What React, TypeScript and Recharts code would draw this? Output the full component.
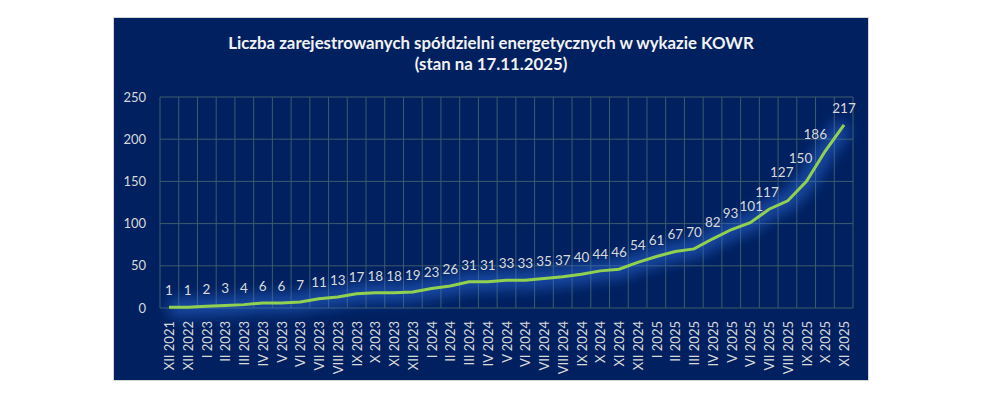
import React from "react";
import { LineChart, Line, XAxis, YAxis, CartesianGrid, LabelList } from "recharts";

const months = [
  "XII 2021", "XII 2022", "I 2023", "II 2023", "III 2023", "IV 2023", "V 2023", "VI 2023",
  "VII 2023", "VIII 2023", "IX 2023", "X 2023", "XI 2023", "XII 2023", "I 2024", "II 2024",
  "III 2024", "IV 2024", "V 2024", "VI 2024", "VII 2024", "VIII 2024", "IX 2024", "X 2024",
  "XI 2024", "XII 2024", "I 2025", "II 2025", "III 2025", "IV 2025", "V 2025", "VI 2025",
  "VII 2025", "VIII 2025", "IX 2025", "X 2025", "XI 2025",
];

const counts = [
  1, 1, 2, 3, 4, 6, 6, 7, 11, 13, 17, 18, 18, 19, 23, 26, 31, 31, 33, 33, 35, 37, 40, 44,
  46, 54, 61, 67, 70, 82, 93, 101, 117, 127, 150, 186, 217,
];

const yTicks = [0, 50, 100, 150, 200, 250];

const data = months.map((m, i) => ({ month: m, count: counts[i] }));

const FONT = "Lato, 'Open Sans', sans-serif";
const TEXT = "#d9d9d9";

// small manual nudges for labels on the steep end (like the hand-placed ones in the original)
const labelNudge: Record<number, [number, number]> = {
  30: [-1, 0],
  31: [1, 0],
  32: [-2, 0],
  33: [-6, -12],
  34: [-6, -6],
  35: [-10, 0],
};

function MonthTick(props: any) {
  const { x, y, payload } = props;
  const ty = y + 5;
  return (
    <text
      x={x}
      y={ty}
      transform={`rotate(-90 ${x} ${ty})`}
      textAnchor="end"
      dominantBaseline="central"
      fill={TEXT}
      fontSize={13}
      fontFamily={FONT}
    >
      {payload.value}
    </text>
  );
}

function PointLabel(props: any) {
  const { x, y, value, index } = props;
  const [dx, dy] = labelNudge[index] || [0, 0];
  return (
    <text
      x={x + dx}
      y={y - 12 + dy}
      textAnchor="middle"
      fill={TEXT}
      fontSize={13.5}
      fontFamily={FONT}
    >
      {value}
    </text>
  );
}

export default function App() {
  const n = months.length;
  return (
    <div style={{ position: "absolute", left: 0, top: 0, width: 981, height: 396, background: "#fff" }}>
      <div
        style={{
          position: "absolute",
          left: 113,
          top: 17,
          width: 754,
          height: 362,
          background: "#002060",
          border: "1px solid #d6d6d6",
          fontFamily: FONT,
        }}
      >
        <div
          style={{
            position: "absolute",
            left: 0,
            width: 754,
            top: 14,
            textAlign: "center",
            color: "#f2f2f2",
            fontWeight: 700,
            fontSize: 16.8,
            lineHeight: "21px",
          }}
        >
          Liczba zarejestrowanych spółdzielni energetycznych w wykazie KOWR
          <br />
          (stan na 17.11.2025)
        </div>
        <div style={{ position: "absolute", left: 0, top: 0 }}>
          <LineChart width={754} height={362} data={data} margin={{ top: 79, right: 15, left: 0, bottom: 0 }}>
            <defs>
              <filter id="glow" x="-20%" y="-50%" width="140%" height="200%">
                <feGaussianBlur stdDeviation="7" />
              </filter>
            </defs>
            <CartesianGrid
              stroke="#3d5c6c"
              strokeWidth={1}
              verticalCoordinatesGenerator={(p: any) => {
                const off = p.offset;
                return Array.from({ length: n + 1 }, (_, i) => off.left + (i * off.width) / n);
              }}
            />
            <XAxis
              dataKey="month"
              interval={0}
              padding={{ left: 9, right: 9 }}
              axisLine={false}
              tickLine={false}
              height={72}
              tick={<MonthTick />}
            />
            <YAxis
              domain={[0, 250]}
              ticks={yTicks}
              width={46}
              axisLine={false}
              tickLine={false}
              tickMargin={8}
              tick={{ fill: TEXT, fontSize: 13, fontFamily: FONT }}
            />
            <Line
              dataKey="count"
              type="linear"
              stroke="#2f6fe0"
              strokeOpacity={0.55}
              strokeWidth={18}
              dot={false}
              filter="url(#glow)"
              isAnimationActive={false}
            />
            <Line
              dataKey="count"
              type="linear"
              stroke="#92d050"
              strokeWidth={3}
              dot={false}
              isAnimationActive={false}
            >
              <LabelList dataKey="count" content={<PointLabel />} />
            </Line>
          </LineChart>
        </div>
      </div>
    </div>
  );
}
